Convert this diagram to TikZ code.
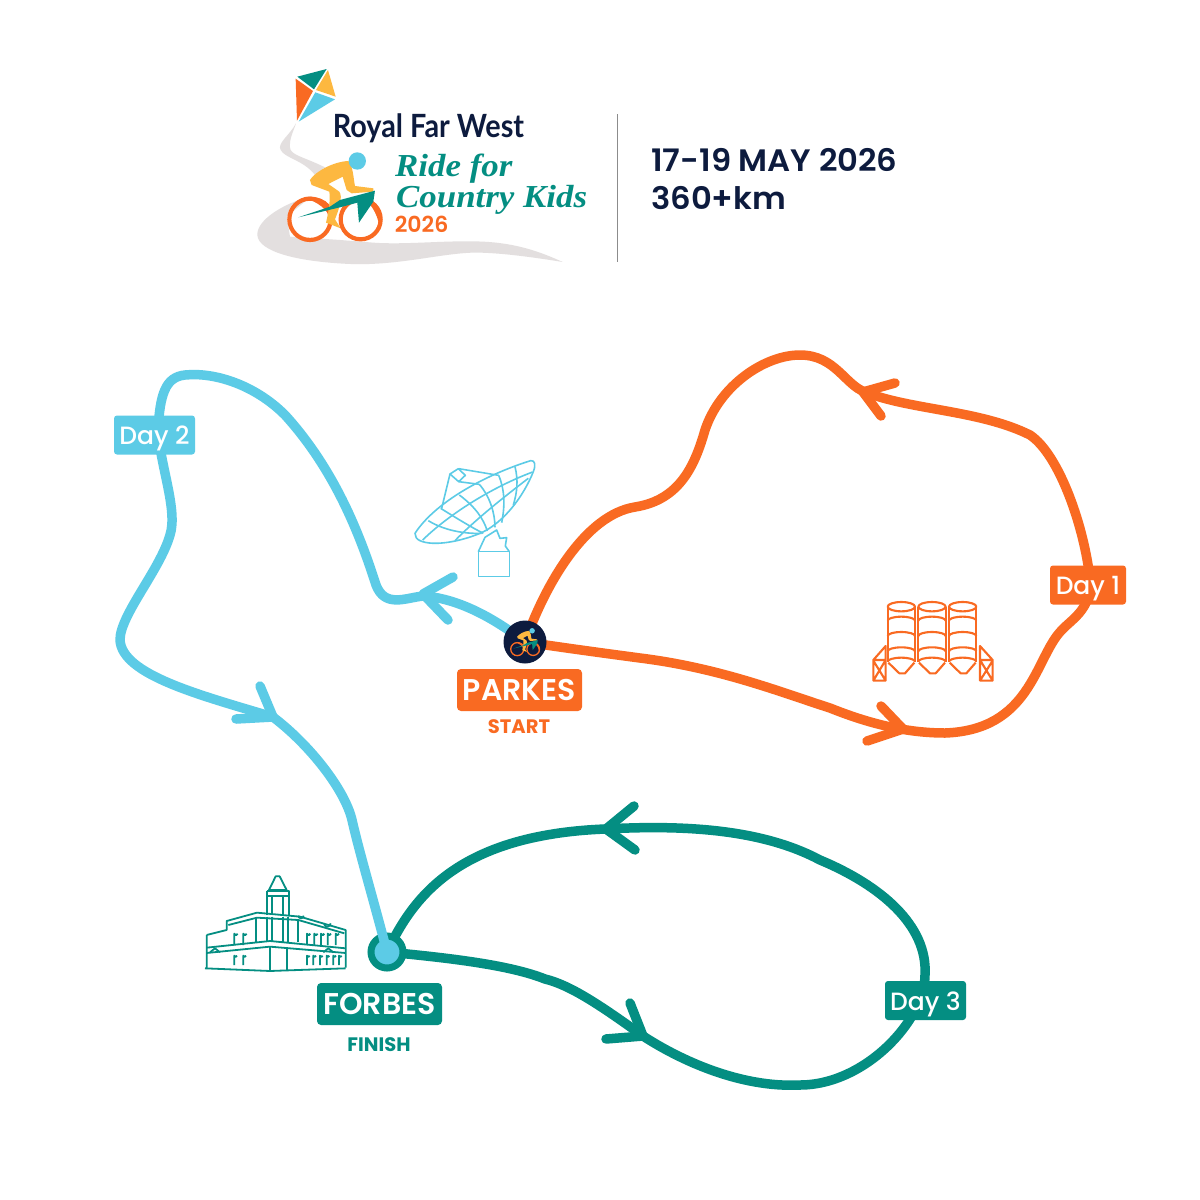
\documentclass[tikz,border=0pt]{standalone}
\usepackage{fontspec}
\setmainfont{Poppins}[BoldFont={Poppins SemiBold}]
\newfontfamily\medfont{Poppins Medium}
\newfontfamily\heavyfont{Poppins Bold}
\newfontfamily\logofont{Lato}
\newfontfamily\brushfont{Liberation Serif}
\definecolor{orng}{HTML}{F96A22}
\definecolor{sky}{HTML}{5CCBE6}
\definecolor{teal2}{HTML}{048E82}
\definecolor{navy}{HTML}{0D1B3E}
\definecolor{gold}{HTML}{FDB840}
\definecolor{swoosh}{HTML}{E3DFDF}
\tikzset{
  route/.style={line width=9.5pt,line cap=round,line join=round},
  chev/.style={route},
  daybox/.style={rounded corners=3pt,minimum height=39pt,inner sep=0pt,text=white,text height=19pt,text depth=0pt,font=\medfont\fontsize{25}{25}\selectfont},
  townbox/.style={rounded corners=4pt,minimum width=125pt,minimum height=42pt,inner sep=0pt,text=white,text height=21pt,text depth=0pt,font=\fontsize{30}{30}\selectfont\bfseries},
  sublabel/.style={inner sep=0pt,font=\heavyfont\fontsize{19.5}{19.5}\selectfont},
  thin orange/.style={draw=orng,line width=2.1pt,line join=round},
  thin sky/.style={draw=sky,line width=1.6pt,line join=round},
  thin teal/.style={draw=teal2,line width=1.8pt,line join=round},
  zoomed/.style={x=0.3333pt,y=-0.3333pt},
}
% cyclist, in the coordinates of the logo crop; #1 = wheel line width
\newcommand{\cyclistdraw}[1]{%
  \draw[orng,line width=#1] (210,478) circle (62);
  \draw[orng,line width=#1] (362,478) circle (60);
  \fill[orng] (190,412) .. controls (240,405) and (290,425) .. (278,490) .. controls (265,445) and (230,425) .. (190,412) -- cycle;
  \fill[orng] (375,418) .. controls (420,425) and (435,470) .. (420,510) .. controls (415,470) and (400,440) .. (375,418) -- cycle;
  \fill[gold] (210,360) .. controls (225,335) and (280,305) .. (325,303) .. controls (340,320) and (340,355) .. (345,378) -- (400,385) -- (400,395) -- (335,400) -- (320,390) -- (308,350) -- (265,372) -- (298,395) .. controls (308,410) and (300,440) .. (285,478) -- (302,505) -- (258,488) .. controls (265,460) and (272,420) .. (268,395) -- (215,375) -- cycle;
  \fill[teal2] (175,472) -- (270,440) -- (300,420) -- (405,392) -- (400,425) -- (357,488) -- (352,428) -- (300,442) -- cycle;
  \fill[sky] (352,303) circle (26);
}
\begin{document}
\begin{tikzpicture}[x=1pt,y=-1pt]
\useasboundingbox (0,0) rectangle (1200,1200);
\fill[white] (0,0) rectangle (1200,1200);

% ---------- logo ----------
\begin{scope}[shift={(240,60)},zoomed]
  \fill[swoosh] (168,190) .. controls (150,225) and (110,250) .. (122,270) .. controls (135,295) and (190,300) .. (225,345) -- (255,322) .. controls (190,290) and (150,285) .. (150,262) .. controls (148,235) and (160,215) .. (168,190) -- cycle;
  \fill[swoosh] (215,408) .. controls (130,430) and (50,480) .. (52,525) .. controls (55,575) and (170,605) .. (330,612) .. controls (480,618) and (620,575) .. (720,578) .. controls (800,580) and (900,595) .. (968,606) .. controls (900,575) and (830,550) .. (730,545) .. controls (620,540) and (500,555) .. (400,548) -- (300,540) -- (150,530) -- (140,470) -- cycle;
  \fill[teal2] (172,50) -- (260,27) -- (222,88) -- cycle;
  \fill[gold] (264,30) -- (287,110) -- (228,90) -- cycle;
  \fill[orng] (167,56) -- (219,93) -- (171,182) -- cycle;
  \fill[sky] (226,97) -- (285,118) -- (176,185) -- cycle;
  \cyclistdraw{4.2pt}
  \node[anchor=base west,inner sep=0pt,text=navy] (rfw) at (278,232) {\scalebox{0.9}[1]{\logofont\bfseries\fontsize{32}{32}\selectfont Royal Far West}};
  \node[anchor=base west,inner sep=0pt,text=teal2] (ride) at (465,350) {\scalebox{1.09}[1]{\brushfont\bfseries\itshape\fontsize{32}{32}\selectfont Ride for}};
  \node[anchor=base west,inner sep=0pt,text=teal2] (country) at (468,442) {\scalebox{1.09}[1]{\brushfont\bfseries\itshape\fontsize{32}{32}\selectfont Country Kids}};
  \node[anchor=base west,inner sep=0pt,text=orng] (year) at (464,519) {\bfseries\fontsize{22}{22}\selectfont 2026};
\end{scope}
\coordinate (divtop) at (617,114);
\coordinate (divbot) at (617,262);
\draw[black!45,line width=1pt] (divtop) -- (divbot);
\node[anchor=base west,inner sep=0pt,text=navy] (date) at (651,171) {\scalebox{1.04}[1]{\bfseries\fontsize{31}{31}\selectfont 17-19 MAY 2026}};
\node[anchor=base west,inner sep=0pt,text=navy] (dist) at (651,209) {\scalebox{1.04}[1]{\bfseries\fontsize{31}{31}\selectfont 360+km}};

% ---------- landmarks ----------
% radio telescope
\begin{scope}[shift={(400,450)},zoomed]
  \draw[thin sky] (45,250) .. controls (110,150) and (270,70) .. (392,32) .. controls (405,30) and (408,45) .. (400,65) .. controls (370,140) and (310,220) .. (240,250) .. controls (180,275) and (100,290) .. (60,272) .. controls (50,268) and (45,260) .. (45,250) -- cycle;
  \draw[thin sky] (68,270) .. controls (150,190) and (280,110) .. (398,66);
  \draw[thin sky] (165,272) .. controls (220,215) and (300,150) .. (385,85);
  \draw[thin sky] (85,212) .. controls (130,240) and (190,252) .. (245,250);
  \draw[thin sky] (122,175) .. controls (170,205) and (220,235) .. (250,250);
  \draw[thin sky] (178,135) .. controls (225,170) and (250,205) .. (262,243);
  \draw[thin sky] (238,103) .. controls (270,140) and (285,190) .. (285,232);
  \draw[thin sky] (296,76) .. controls (315,120) and (315,170) .. (305,218);
  \draw[thin sky] (345,50) .. controls (355,90) and (352,125) .. (340,165);
  \draw[thin sky] (150,72) -- (175,56) -- (196,76) -- (176,95) -- cycle;
  \draw[thin sky] (150,72) -- (125,175) (176,56) -- (296,76) (176,95) -- (238,103);
  \draw[thin sky] (235,305) rectangle (328,380);
  \draw[thin sky] (235,305) -- (255,262) -- (290,240) -- (300,265) -- (320,263) -- (316,288) -- (328,305);
\end{scope}
% silos
\begin{scope}[shift={(860,590)},zoomed]
  \foreach \sx in {83,175,267}{
    \draw[thin orange] (\sx,50) arc[start angle=180,end angle=0,x radius=41,y radius=14] arc[start angle=0,end angle=-180,x radius=41,y radius=14] -- cycle;
    \draw[thin orange] (\sx,50) -- (\sx,215) (\sx+82,50) -- (\sx+82,215);
    \foreach \ry in {92,138,184,215}{
      \draw[thin orange] (\sx,\ry) arc[start angle=180,end angle=360,x radius=41,y radius=12];
    }
    \draw[thin orange] (\sx+2,218) -- (\sx+35,250) -- (\sx+52,250) -- (\sx+80,218);
  }
  \draw[thin orange] (40,210) -- (77,168) -- (77,272) -- (40,272) -- cycle (40,210) -- (77,210) (40,212) -- (77,272) (77,210) -- (40,272);
  \draw[thin orange] (398,210) -- (360,168) -- (360,272) -- (398,272) -- cycle (360,210) -- (398,210) (398,212) -- (360,272) (360,210) -- (398,272);
\end{scope}
% building
\begin{scope}[shift={(195,865)},zoomed]
  \draw[thin teal] (222,75) -- (242,34) -- (254,34) -- (275,75) -- cycle;
  \draw[thin teal] (215,78) -- (283,78) -- (283,150) (215,78) -- (215,150) (215,92) -- (283,92) (232,92) -- (232,150) (265,92) -- (265,150);
  \draw[thin teal] (35,210) -- (95,195) -- (95,168) -- (186,143) -- (315,155) -- (452,195) -- (452,308) (35,210) -- (35,310);
  \draw[thin teal] (100,180) -- (186,158) -- (310,165) -- (448,205);
  \draw[thin teal] (35,248) -- (225,228) -- (452,250) (35,264) -- (225,245) -- (452,264);
  \draw[thin teal] (30,310) -- (225,318) -- (452,310);
  \draw[thin teal] (225,245) -- (225,318) (275,247) -- (275,318);
  \foreach \vx/\vy in {183/158,215/155,232/155,265/155,280/155,310/165}{\draw[thin teal] (\vx,\vy) -- (\vx,232);}
  \foreach \wx in {118,145,336,358,378,398,422}{\draw[thin teal] (\wx,240) -- (\wx,206) arc[start angle=180,end angle=0,radius=5] ;}
  \foreach \wx in {118,145,336,355,375,395,415,432}{\draw[thin teal] (\wx,300) -- (\wx,272) arc[start angle=180,end angle=0,radius=4];}
  \draw[thin teal] (45,262) -- (60,250) -- (75,262) (385,262) -- (400,250) -- (415,262);
  \draw[thin teal] (310,152) arc[start angle=180,end angle=0,radius=8] (387,175) arc[start angle=180,end angle=0,radius=10];
\end{scope}

% ---------- places ----------
\coordinate (parkes) at (525,642);
\coordinate (forbes) at (387,952);

% ---------- routes ----------
% Day 1, orange
\draw[route,orng] (parkes) .. controls (545,585) and (585,515) .. (635,507)
  .. controls (680,500) and (695,465) .. (705,430)
  .. controls (720,385) and (765,355) .. (800,355)
  .. controls (835,355) and (845,385) .. (865,392)
  .. controls (910,410) and (980,410) .. (1030,435)
  .. controls (1060,455) and (1085,530) .. (1090,580)
  .. controls (1092,610) and (1070,620) .. (1060,632)
  .. controls (1035,660) and (1030,730) .. (945,733)
  .. controls (900,733) and (860,720) .. (830,708)
  .. controls (780,692) and (720,668) .. (640,658)
  .. controls (610,654) and (580,650) .. (parkes);
\draw[chev,orng] (895,383) -- (863,392) -- (881,416);
\draw[chev,orng] (881,706) -- (903,729) -- (867,741);
% Day 3, teal
\draw[route,teal2] (forbes) .. controls (412,900) and (455,835) .. (605,829)
  .. controls (680,825) and (760,828) .. (820,860)
  .. controls (880,885) and (928,925) .. (925,975)
  .. controls (925,1020) and (865,1085) .. (800,1085)
  .. controls (740,1088) and (680,1060) .. (643,1036)
  .. controls (600,1005) and (570,985) .. (545,979)
  .. controls (510,965) and (450,958) .. (forbes);
\draw[chev,teal2] (634,806) -- (606,829) -- (635,850);
\draw[chev,teal2] (630,1003) -- (643,1036) -- (606,1039);
% Forbes ring
\node[circle,fill=sky,draw=teal2,line width=7pt,minimum size=32pt,inner sep=0pt] (forbesdot) at (forbes) {};
% Day 2, blue
\draw[route,sky] (parkes) .. controls (490,615) and (455,598) .. (423,596)
  .. controls (405,598) and (385,608) .. (376,585)
  .. controls (360,535) and (335,470) .. (285,415)
  .. controls (255,385) and (215,372) .. (185,375)
  .. controls (165,377) and (160,395) .. (158,430)
  .. controls (160,465) and (178,510) .. (170,535)
  .. controls (160,570) and (120,615) .. (120,640)
  .. controls (122,675) and (200,695) .. (273,717)
  .. controls (310,745) and (345,790) .. (352,820)
  .. controls (360,855) and (375,905) .. (forbes);
\draw[chev,sky] (453,577) -- (423,594) -- (448,620);
\draw[chev,sky] (260,686) -- (273,717) -- (236,719);

% Parkes badge
\node[circle,fill=navy,minimum size=43pt,inner sep=0pt] (parkesbadge) at (parkes) {};
\begin{scope}[shift={(parkes)},x=0.105pt,y=-0.105pt,shift={(-284,-410)}]
  \cyclistdraw{1.3pt}
\end{scope}

% ---------- labels ----------
\node[daybox,fill=orng,minimum width=76pt] (day1) at (1088,585) {Day 1};
\node[daybox,fill=sky,minimum width=81pt] (day2) at (154.5,435) {Day 2};
\node[daybox,fill=teal2,minimum width=81pt] (day3) at (925.5,1000.5) {Day 3};
\node[townbox,fill=orng] (parkeslabel) at (519.5,690) {PARKES};
\node[sublabel,text=orng] (start) at (519,727) {START};
\node[townbox,fill=teal2] (forbeslabel) at (379.5,1004) {FORBES};
\node[sublabel,text=teal2] (finish) at (379,1045) {FINISH};
\end{tikzpicture}
\end{document}
